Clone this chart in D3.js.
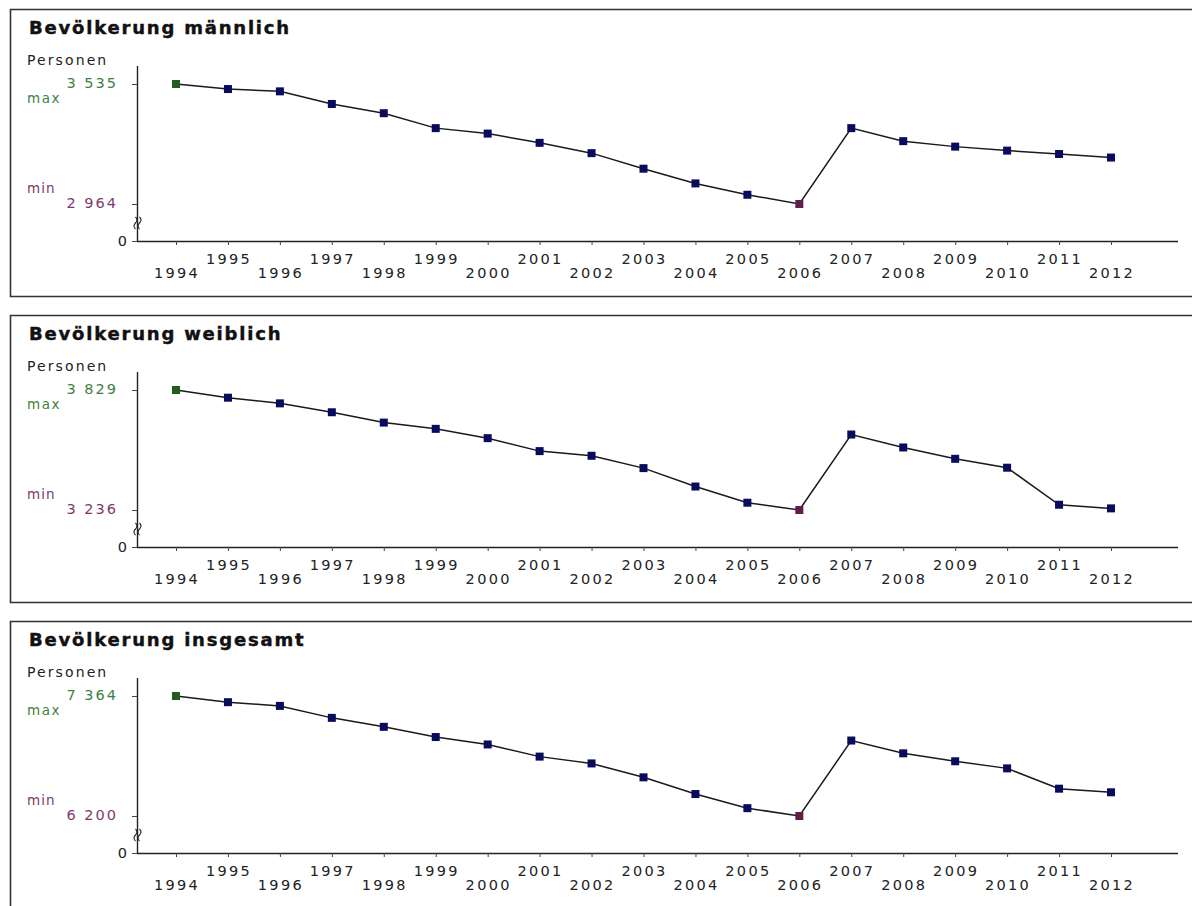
<!DOCTYPE html>
<html>
<head>
<meta charset="utf-8">
<script src="https://cdn.jsdelivr.net/npm/d3@7"></script>
<style>
  html, body { margin: 0; padding: 0; background: #fff; }
  svg { display: block; }
  text { font-family: "DejaVu Sans", Verdana, sans-serif; }
</style>
</head>
<body>
<svg id="chart" width="1192" height="906"></svg>
<script>
// ---- data ----
const years = ["1994","1995","1996","1997","1998","1999","2000","2001","2002","2003","2004","2005","2006","2007","2008","2009","2010","2011","2012"];
const male = [3535,3511,3500,3440,3396,3325,3299,3255,3206,3132,3062,3008,2964,3325,3263,3237,3218,3202,3185];
const female = [3829,3791,3763,3719,3668,3637,3591,3527,3504,3443,3352,3272,3236,3609,3545,3489,3445,3262,3244];
const total = [7364,7304,7268,7152,7065,6966,6894,6776,6710,6575,6413,6276,6200,6932,6808,6731,6662,6465,6430];
const titles = ["Bevölkerung männlich","Bevölkerung weiblich","Bevölkerung insgesamt"];
const unitLabel = "Personen";
const maxLabel = "max", minLabel = "min", zeroLabel = "0";

const seriesList = [male, female, total];

const svg = d3.select("#chart");
const loc = d3.formatLocale({decimal: ",", thousands: " ", grouping: [3], currency: ["", ""]});
const fmt = loc.format(",d");

const panelTops = [9, 315, 621];
const panelH = 288;
const axisX = 137;
const x = d3.scalePoint().domain(years).range([176, 1111]);

const colNavy = "#0b0b5c", colGreen = "#245a24", colPurple = "#5e1f48";
const txtGreen = "#3f7f3f", txtPurple = "#7e3a6c";

seriesList.forEach((vals, pi) => {
  const T = panelTops[pi];
  const g = svg.append("g").attr("transform", `translate(0,${T})`);
  const data = years.map((yr, i) => ({year: yr, value: vals[i]}));
  const vMax = d3.max(vals), vMin = d3.min(vals);
  const y = d3.scaleLinear().domain([vMin, vMax]).range([195, 75]);
  const zeroY = 232;

  // frame (open on the right)
  g.append("path")
    .attr("d", `M1200,0.5 H10.5 V${panelH - 0.5} H1200`)
    .attr("fill", "none").attr("stroke", "#333").attr("stroke-width", 1.6);

  // title
  g.append("text").attr("x", 29).attr("y", 25)
    .attr("font-size", 18).attr("font-weight", "bold")
    .attr("letter-spacing", "1.8px").attr("fill", "#111")
    .attr("stroke", "#111").attr("stroke-width", 0.45)
    .text(titles[pi]);

  // unit
  g.append("text").attr("x", 27).attr("y", 51).attr("dy", "0.35em")
    .attr("font-size", 14).attr("letter-spacing", "2.1px").attr("fill", "#222")
    .text(unitLabel);

  // y axis line
  g.append("line").attr("x1", axisX + 0.5).attr("x2", axisX + 0.5)
    .attr("y1", 57).attr("y2", zeroY).attr("stroke", "#222").attr("stroke-width", 1.4);

  // y ticks at max, min, zero
  [y(vMax), y(vMin), zeroY].forEach(ty => {
    g.append("line").attr("x1", axisX - 5).attr("x2", axisX)
      .attr("y1", ty + 0.5).attr("y2", ty + 0.5).attr("stroke", "#444").attr("stroke-width", 1);
  });

  // y labels
  g.append("text").attr("x", 118).attr("y", y(vMax) - 1).attr("dy", "0.35em")
    .attr("text-anchor", "end").attr("font-size", 14.5).attr("letter-spacing", "2px")
    .attr("fill", txtGreen).text(fmt(vMax));
  g.append("text").attr("x", 27).attr("y", y(vMax) + 14).attr("dy", "0.35em")
    .attr("font-size", 13.5).attr("letter-spacing", "1.5px")
    .attr("fill", txtGreen).text(maxLabel);
  g.append("text").attr("x", 118).attr("y", y(vMin) - 1).attr("dy", "0.35em")
    .attr("text-anchor", "end").attr("font-size", 14.5).attr("letter-spacing", "2px")
    .attr("fill", txtPurple).text(fmt(vMin));
  g.append("text").attr("x", 27).attr("y", y(vMin) - 16).attr("dy", "0.35em")
    .attr("font-size", 13.5).attr("letter-spacing", "1px")
    .attr("fill", txtPurple).text(minLabel);
  g.append("text").attr("x", 127).attr("y", zeroY).attr("dy", "0.35em")
    .attr("text-anchor", "end").attr("font-size", 14.5).attr("fill", "#222").text(zeroLabel);

  // axis break symbol (two small waves across the axis)
  [-2, 2].forEach(dx => {
    const cx = axisX + 0.5 + dx, cy = 214;
    g.append("path")
      .attr("d", `M${cx},${cy - 6} q3,3 0,6 q-3,3 0,6`)
      .attr("fill", "none").attr("stroke", "#222").attr("stroke-width", 1.1);
  });

  // x axis
  g.append("line").attr("x1", axisX).attr("x2", 1178)
    .attr("y1", zeroY + 0.5).attr("y2", zeroY + 0.5).attr("stroke", "#222").attr("stroke-width", 1.4);
  years.forEach(yr => {
    g.append("line").attr("x1", x(yr) + 0.5).attr("x2", x(yr) + 0.5)
      .attr("y1", zeroY).attr("y2", zeroY + 4).attr("stroke", "#444").attr("stroke-width", 1);
  });
  years.forEach((yr, i) => {
    g.append("text").attr("x", x(yr) + 1).attr("y", i % 2 === 0 ? 264 : 250).attr("dy", "0.35em")
      .attr("text-anchor", "middle").attr("font-size", 14.5).attr("letter-spacing", "2.3px")
      .attr("fill", "#222").text(yr);
  });

  // line
  const line = d3.line().x(d => x(d.year)).y(d => y(d.value));
  g.append("path").datum(data).attr("d", line)
    .attr("fill", "none").attr("stroke", "#1a1a1a").attr("stroke-width", 1.5);

  // markers
  const s = 8;
  g.selectAll("rect.m").data(data).join("rect").attr("class", "m")
    .attr("x", d => x(d.year) - s / 2).attr("y", d => y(d.value) - s / 2)
    .attr("width", s).attr("height", s)
    .attr("fill", d => d.value === vMax ? colGreen : (d.value === vMin ? colPurple : colNavy));
});
</script>
</body>
</html>
